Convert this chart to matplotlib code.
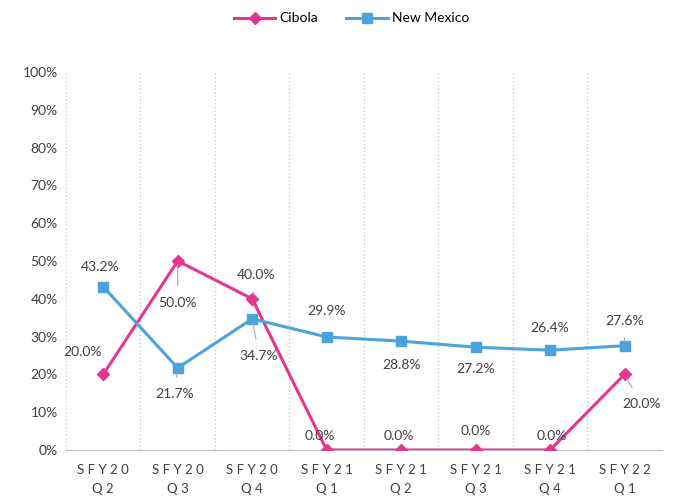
import matplotlib.pyplot as plt
import numpy as np

# data
quarters = ['SFY20\nQ2', 'SFY20\nQ3', 'SFY20\nQ4', 'SFY21\nQ1',
            'SFY21\nQ2', 'SFY21\nQ3', 'SFY21\nQ4', 'SFY22\nQ1']
cibola = [20.0, 50.0, 40.0, 0.0, 0.0, 0.0, 0.0, 20.0]
new_mexico = [43.2, 21.7, 34.7, 29.9, 28.8, 27.2, 26.4, 27.6]

# label offsets in points (dx, dy) and whether a leader line is drawn
cibola_offsets = [(-15, 16), (0, -30), (3, 17), (-5, 10), (-2, 10), (0, 14), (1, 10), (12, -21)]
cibola_leader = [False, True, True, False, False, False, False, True]
nm_offsets = [(-2, 14), (-2, -19), (5, -27), (0, 19), (0, -17), (0, -16), (0, 16), (0, 18)]
nm_leader = [False, True, True, False, False, False, False, True]

pink = '#E5358F'
blue = '#4BA3DC'
plt.rcParams['font.family'] = ['Lato', 'DejaVu Sans']

fig = plt.figure(figsize=(6.76, 5.01), dpi=100)
ax = fig.add_axes([0.0976, 0.1018, 0.8814, 0.7545])

x = np.arange(len(quarters))
ax.plot(x, cibola, color=pink, lw=2.2, marker='D', ms=6, label='Cibola', zorder=3)
ax.plot(x, new_mexico, color=blue, lw=2.2, marker='s', ms=7, label='New Mexico', zorder=3)


def put_labels(vals, offsets, leaders):
    for i, v in enumerate(vals):
        dx, dy = offsets[i]
        arrow = None
        if leaders[i]:
            arrow = dict(arrowstyle='-', color='#A6A6A6', lw=0.8, shrinkA=6, shrinkB=3)
        ax.annotate(f'{v:.1f}%', (x[i], v), xytext=(dx, dy), textcoords='offset points',
                    ha='center', va='center', fontsize=10, color='#404040',
                    arrowprops=arrow, zorder=4)


put_labels(cibola, cibola_offsets, cibola_leader)
put_labels(new_mexico, nm_offsets, nm_leader)

ax.set_xlim(-0.5, len(quarters) - 0.5)
ax.set_ylim(0, 100)
ax.set_yticks(np.arange(0, 101, 10))
ax.set_yticklabels([f'{t}%' for t in range(0, 101, 10)], fontsize=10, color='#404040')
ax.tick_params(axis='y', length=0, pad=6)
ax.set_xticks(x)
spaced = ['\n'.join(' '.join(part) for part in q.split('\n')) for q in quarters]
ax.set_xticklabels(spaced, fontsize=9.5, color='#404040', linespacing=1.75)
ax.tick_params(axis='x', length=0, pad=10)

# category separators
ax.set_xticks(np.arange(-0.5, len(quarters), 1), minor=True)
ax.tick_params(axis='x', which='minor', length=0)
ax.grid(axis='x', which='minor', color='#CCCCCC', linestyle=':', lw=1)
ax.grid(axis='x', which='major', visible=False)

for s in ['top', 'right', 'left']:
    ax.spines[s].set_visible(False)
ax.spines['bottom'].set_color('#BFBFBF')

fig.legend(loc='upper center', bbox_to_anchor=(0.52, 1.0), ncol=2, frameon=False,
           fontsize=10, handlelength=3, columnspacing=2, handletextpad=0.3)

fig.savefig('out.png', dpi=100)
